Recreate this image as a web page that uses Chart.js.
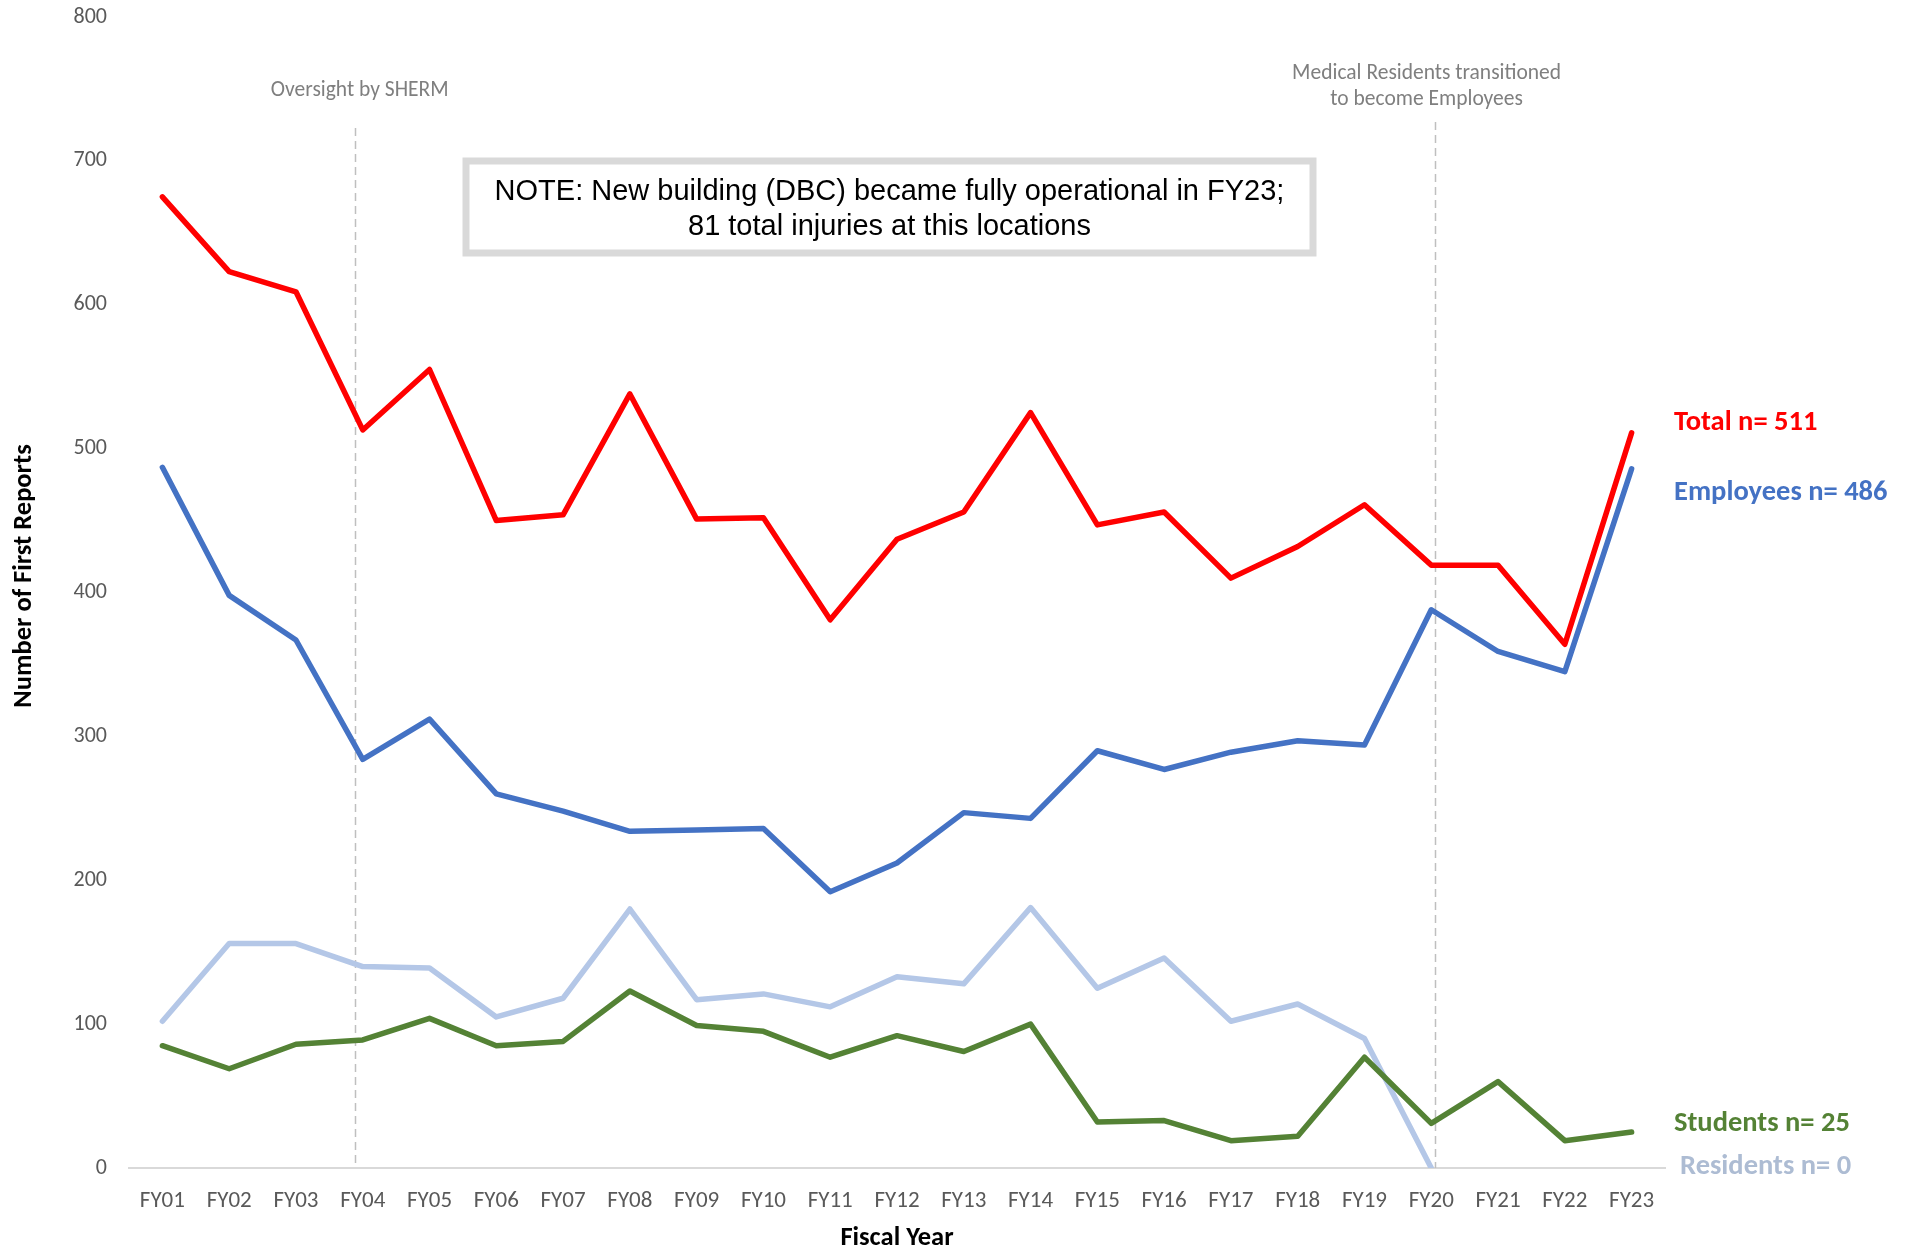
<!DOCTYPE html>
<html>
<head>
<meta charset="utf-8">
<script src="https://cdn.jsdelivr.net/npm/chart.js@4.4.1/dist/chart.umd.min.js"></script>
<style>
  html, body { margin: 0; padding: 0; background: #ffffff; }
  #wrap { position: relative; width: 1906px; height: 1251px; }
</style>
</head>
<body>
<div id="wrap"><canvas id="c" width="1906" height="1251"></canvas></div>
<script>
// ---- data ----
const categories = ["FY01","FY02","FY03","FY04","FY05","FY06","FY07","FY08","FY09","FY10","FY11","FY12","FY13","FY14","FY15","FY16","FY17","FY18","FY19","FY20","FY21","FY22","FY23"];
const totalValues     = [675, 623, 609, 513, 555, 450, 454, 538, 451, 452, 381, 437, 456, 525, 447, 456, 410, 432, 461, 419, 419, 364, 511];
const employeeValues  = [487, 398, 367, 284, 312, 260, 248, 234, 235, 236, 192, 212, 247, 243, 290, 277, 289, 297, 294, 388, 359, 345, 486];
const residentValues  = [102, 156, 156, 140, 139, 105, 118, 180, 117, 121, 112, 133, 128, 181, 125, 146, 102, 114, 90, 0, null, null, null];
const studentValues   = [85, 69, 86, 89, 104, 85, 88, 123, 99, 95, 77, 92, 81, 100, 32, 33, 19, 22, 77, 31, 60, 19, 25];
const yTicks = [0, 100, 200, 300, 400, 500, 600, 700, 800];
const seriesNames = ["Total", "Employees", "Students", "Residents"];
const endCounts = [511, 486, 25, 0];
const yTitle = "Number of First Reports";
const xTitle = "Fiscal Year";
const noteLines = ["NOTE: New building (DBC) became fully operational in FY23;", "81 total injuries at this locations"];
const markers = [
  { at: 2.88, lines: ["Oversight by SHERM"] },
  { at: 19.05, lines: ["Medical Residents transitioned", "to become Employees"] }
];

const FONT = "Carlito, Calibri, Lato, 'Open Sans', sans-serif";
const colors = { total: "#ff0000", emp: "#4472c4", res: "#b4c7e7", stu: "#548235" };

const overlay = {
  id: "overlay",
  beforeDatasetsDraw(chart) {
    const ctx = chart.ctx, xs = chart.scales.x, ys = chart.scales.y;
    ctx.save();
    ctx.strokeStyle = "#bfbfbf";
    ctx.lineWidth = 1.5;
    ctx.setLineDash([8, 5]);
    const tops = [128, 122];
    markers.forEach((m, i) => {
      const px = Math.round(xs.getPixelForValue(m.at)) + 0.5;
      ctx.beginPath();
      ctx.moveTo(px, tops[i]);
      ctx.lineTo(px, ys.bottom);
      ctx.stroke();
    });
    ctx.restore();
  },
  afterDatasetsDraw(chart) {
    const ctx = chart.ctx, xs = chart.scales.x, ys = chart.scales.y, area = chart.chartArea;
    ctx.save();
    // marker annotations
    ctx.fillStyle = "#7f7f7f";
    ctx.font = "21.5px " + FONT;
    ctx.textAlign = "center";
    ctx.textBaseline = "middle";
    const m0 = markers[0];
    ctx.fillText(m0.lines[0], xs.getPixelForValue(m0.at) + 5, 91);
    const m1 = markers[1];
    ctx.fillText(m1.lines[0], xs.getPixelForValue(m1.at) - 8, 74);
    ctx.fillText(m1.lines[1], xs.getPixelForValue(m1.at) - 8, 100);

    // note box
    const bx = 466, by = 161, bw = 847, bh = 92;
    ctx.fillStyle = "#ffffff";
    ctx.fillRect(bx, by, bw, bh);
    ctx.strokeStyle = "#d9d9d9";
    ctx.lineWidth = 7;
    ctx.setLineDash([]);
    ctx.strokeRect(bx, by, bw, bh);
    ctx.fillStyle = "#000000";
    ctx.font = "29px 'Liberation Sans', Arial, sans-serif";
    ctx.fillText(noteLines[0], bx + bw / 2, 192, 797);
    ctx.fillText(noteLines[1], bx + bw / 2, 227, 406);

    // end labels
    ctx.textAlign = "left";
    ctx.font = "bold 28.5px " + FONT;
    const lx = area.right + 9;
    const labelAt = [518, 469, 31, 1];
    const labelColors = [colors.total, colors.emp, colors.stu, "#adbcd3"];
    seriesNames.forEach((n, i) => {
      ctx.fillStyle = labelColors[i];
      ctx.fillText(n + " n= " + endCounts[i], lx + (i === 3 ? 6 : 0), ys.getPixelForValue(labelAt[i]));
    });

    // axis titles
    ctx.fillStyle = "#000000";
    ctx.font = "bold 26.5px " + FONT;
    ctx.textAlign = "center";
    ctx.fillText(xTitle, (area.left + area.right) / 2, 1238);
    ctx.translate(24, 576);
    ctx.rotate(-Math.PI / 2);
    ctx.fillText(yTitle, 0, 0);
    ctx.restore();
  }
};

function lineDs(label, data, color, width) {
  return {
    label, data,
    borderColor: color, backgroundColor: color,
    borderWidth: width, pointRadius: 0, pointHoverRadius: 0,
    tension: 0, fill: false, spanGaps: false,
    borderCapStyle: "round", borderJoinStyle: "round"
  };
}

new Chart(document.getElementById("c"), {
  type: "line",
  data: {
    labels: categories,
    datasets: [
      lineDs("Total", totalValues, colors.total, 5.5),
      lineDs("Employees", employeeValues, colors.emp, 5.5),
      lineDs("Students", studentValues, colors.stu, 5.5),
      lineDs("Residents", residentValues, colors.res, 5.5)
    ]
  },
  options: {
    responsive: false,
    animation: false,
    devicePixelRatio: 1,
    layout: { padding: { left: 0, right: 241, top: 17, bottom: 0 } },
    plugins: { legend: { display: false }, tooltip: { enabled: false } },
    scales: {
      x: {
        offset: true,
        grid: { display: false, drawTicks: false },
        border: { display: true, color: "#d9d9d9", width: 2 },
        ticks: { color: "#595959", font: { family: FONT, size: 23 }, padding: 19, maxRotation: 0, autoSkip: false },
        afterFit(s) { s.height = 83; }
      },
      y: {
        min: 0, max: 800,
        afterBuildTicks(s) { s.ticks = yTicks.map(v => ({ value: v })); },
        grid: { display: false, drawTicks: false },
        border: { display: false },
        ticks: { color: "#595959", font: { family: FONT, size: 22 }, padding: 22 },
        afterFit(s) { s.width = 129; s.paddingTop = 0; s.paddingBottom = 0; }
      }
    }
  },
  plugins: [overlay]
});
</script>
</body>
</html>
